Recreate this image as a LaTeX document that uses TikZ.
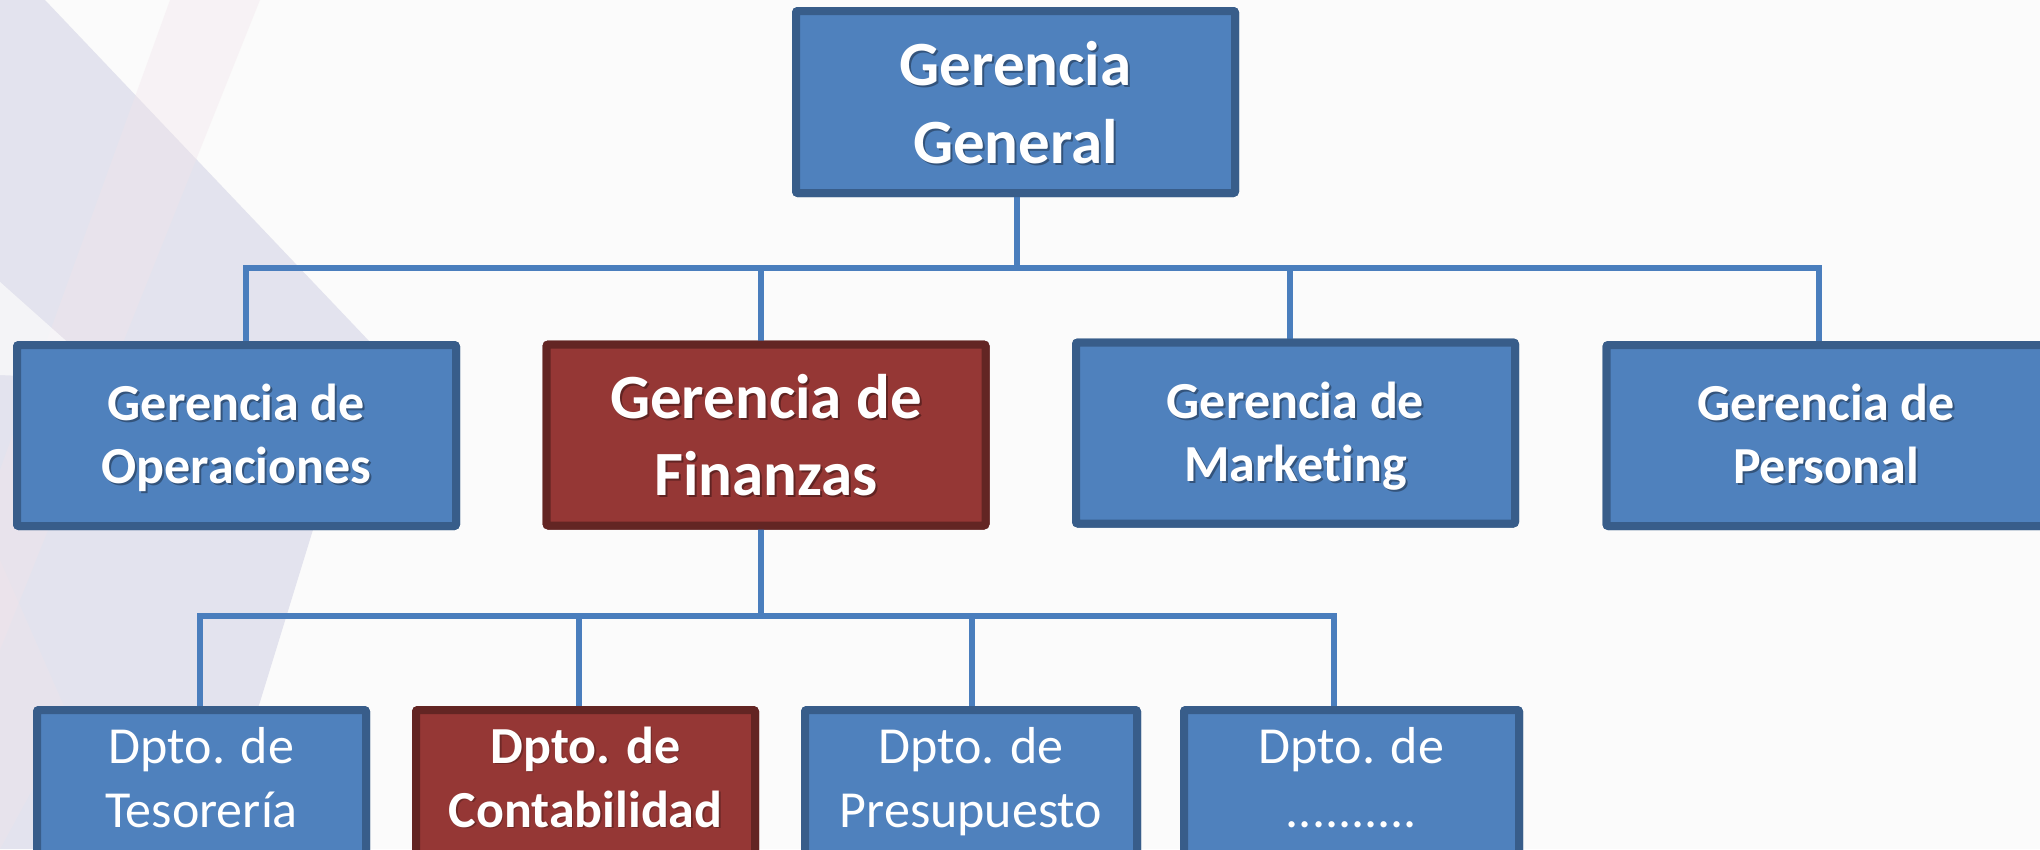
\documentclass[tikz,border=0pt]{standalone}
\usepackage{fontspec}
\setmainfont{Carlito}[Ligatures={NoCommon}]
\usetikzlibrary{calc}
\definecolor{bluefill}{HTML}{4F81BD}
\definecolor{blueedge}{HTML}{385D8A}
\definecolor{redfill}{HTML}{953735}
\definecolor{rededge}{HTML}{632523}
\definecolor{linkc}{HTML}{4A7EBD}
\definecolor{bgc}{HTML}{FBFBFB}
\definecolor{lav}{HTML}{DCDCEA}
\definecolor{pinkish}{HTML}{F2E4EA}
\newcommand\twoline[2]{\begin{tabular}[t]{@{}c@{}}#1\\#2\end{tabular}}
\tikzset{
  box/.style={draw=blueedge, fill=bluefill, line width=8pt, rounded corners=2pt, inner sep=0pt, outer sep=0pt},
  redbox/.style={box, draw=rededge, fill=redfill},
  lvlone/.style={minimum width=439pt, minimum height=182pt},
  lvltwo/.style={minimum width=439pt, minimum height=181pt},
  link/.style={draw=linkc, line width=6.5pt, line join=miter},
  lbl/.style={anchor=base, inner sep=0pt, text=white},
  shd/.style={anchor=base, inner sep=0pt, text=black, text opacity=0.35},
  bigf/.style={font=\fontsize{63}{78}\selectfont\bfseries},
  midf/.style={font=\fontsize{52}{63.5}\selectfont\bfseries},
  smallf/.style={font=\fontsize{52}{64}\selectfont},
  smallbf/.style={font=\fontsize{52}{64}\selectfont\bfseries},
}
\begin{document}
\begin{tikzpicture}[x=1pt,y=-1pt]
\useasboundingbox (0,0) rectangle (2040,849);
\clip (0,0) rectangle (2040,849);
% background
\fill[bgc] (0,0) rectangle (2040,849);
\fill[lav, opacity=0.75] (0,0) -- (45,0) -- (370,342) -- (312,533) -- (260,702) -- (205,849) -- (0,849) -- cycle;
\fill[pinkish, opacity=0.35] (170,0) -- (260,0) -- (0,650) -- (0,470) -- cycle;
\fill[bgc, opacity=0.75] (0,282) -- (110,380) -- (0,375) -- cycle;
\fill[pinkish, opacity=0.3] (0,560) -- (70,720) -- (0,849) -- cycle;

% nodes
\coordinate (bus1) at (0,268);
\coordinate (bus2) at (0,616);
\node[box,lvlone] (gg) at (1015.5,102) {};
\node[box,lvltwo] (ops) at (236.5,435.5) {};
\node[redbox,lvltwo] (fin) at (766,435) {};
\node[box,lvltwo] (mkt) at (1295.5,433) {};
\node[box,lvltwo] (per) at (1826,435.5) {};
\node[box,minimum width=329pt,minimum height=180pt] (teso) at (201.5,800) {};
\node[redbox,minimum width=339pt,minimum height=180pt] (cont) at (585.5,800) {};
\node[box,minimum width=332pt,minimum height=180pt] (pres) at (971,800) {};
\node[box,minimum width=335pt,minimum height=180pt] (otro) at (1351.5,800) {};

% connectors
\draw[link] ([xshift=1.5pt]gg.south) -- ([xshift=1.5pt]gg.south |- bus1);
\draw[link] ([xshift=9.5pt]ops.north) -- ([xshift=9.5pt]ops.north |- bus1)
  -- ([xshift=-7pt]per.north |- bus1) -- ([xshift=-7pt]per.north);
\draw[link] ([xshift=-5pt]fin.north) -- ([xshift=-5pt]fin.north |- bus1);
\draw[link] ([xshift=-5.5pt]mkt.north) -- ([xshift=-5.5pt]mkt.north |- bus1);
\draw[link] ([xshift=-5pt]fin.south) -- ([xshift=-5pt]fin.south |- bus2);
\draw[link] ([xshift=-1.5pt]teso.north) -- ([xshift=-1.5pt]teso.north |- bus2)
  -- ([xshift=-17.5pt]otro.north |- bus2) -- ([xshift=-17.5pt]otro.north);
\draw[link] ([xshift=-6.5pt]cont.north) -- ([xshift=-6.5pt]cont.north |- bus2);
\draw[link] ([xshift=1pt]pres.north) -- ([xshift=1pt]pres.north |- bus2);

% redraw boxes over connector ends
\node[box,lvlone] at (gg) {};
\node[box,lvltwo] at (ops) {};
\node[redbox,lvltwo] at (fin) {};
\node[box,lvltwo] at (mkt) {};
\node[box,lvltwo] at (per) {};
\node[box,minimum width=329pt,minimum height=180pt] at (teso) {};
\node[redbox,minimum width=339pt,minimum height=180pt] at (cont) {};
\node[box,minimum width=332pt,minimum height=180pt] at (pres) {};
\node[box,minimum width=335pt,minimum height=180pt] at (otro) {};

% texts
\node[shd,bigf] (gg-s) at (1017.5,87) {\twoline{Gerencia}{General}};
\node[lbl,bigf] (gg-t) at (1015.5,85) {\twoline{Gerencia}{General}};
\node[shd,midf] (ops-s) at (238.5,422) {\twoline{Gerencia de}{Operaciones}};
\node[lbl,midf] (ops-t) at (236.5,420) {\twoline{Gerencia de}{Operaciones}};
\node[shd,bigf,font=\fontsize{63}{77}\selectfont\bfseries] (fin-s) at (768,420) {\twoline{Gerencia de}{Finanzas}};
\node[lbl,bigf,font=\fontsize{63}{77}\selectfont\bfseries] (fin-t) at (766,418) {\twoline{Gerencia de}{Finanzas}};
\node[shd,midf] (mkt-s) at (1297.5,420) {\twoline{Gerencia de}{Marketing}};
\node[lbl,midf] (mkt-t) at (1295.5,418) {\twoline{Gerencia de}{Marketing}};
\node[shd,midf] (per-s) at (1828,422) {\twoline{Gerencia de}{Personal}};
\node[lbl,midf] (per-t) at (1826,420) {\twoline{Gerencia de}{Personal}};
\node[lbl,smallf] (teso-t) at (201.5,763) {\twoline{Dpto. de}{Tesorería}};
\node[shd,smallbf,text opacity=0.25] (cont-s) at (587,764.5) {\twoline{Dpto. de}{Contabilidad}};
\node[lbl,smallbf] (cont-t) at (585.5,763) {\twoline{Dpto. de}{Contabilidad}};
\node[lbl,smallf] (pres-t) at (971,763) {\twoline{Dpto. de}{Presupuesto}};
\node[lbl,smallf] (otro-t) at (1351.5,763) {\twoline{Dpto. de}{..........}};
\end{tikzpicture}
\end{document}
